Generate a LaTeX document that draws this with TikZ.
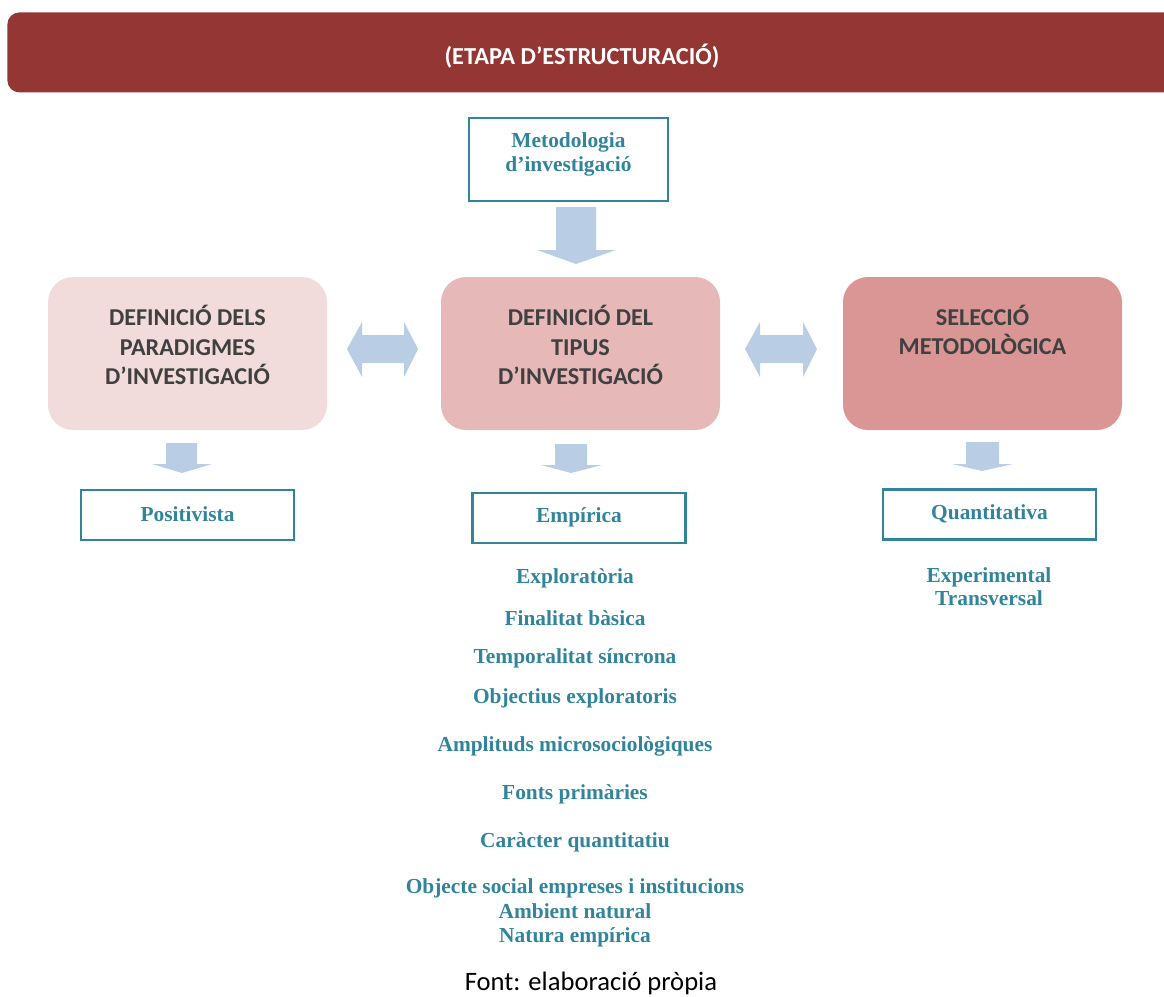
\documentclass[tikz,border=0pt]{standalone}
\usepackage{fontspec}
\setmainfont{Liberation Serif}
\newfontfamily\calibri{Carlito}
\definecolor{bannerred}{HTML}{943634}
\definecolor{paleA}{HTML}{F2DCDB}
\definecolor{paleB}{HTML}{E6B8B7}
\definecolor{paleC}{HTML}{DA9694}
\definecolor{headgray}{HTML}{404040}
\definecolor{tealc}{HTML}{31849B}
\definecolor{arrowblue}{HTML}{B9CDE5}
\begin{document}
\begin{tikzpicture}[x=0.5pt,y=-0.5pt,
  banner/.style={fill=bannerred, rounded corners=6pt, minimum width=590pt, minimum height=40pt, inner sep=0pt},
  bannertxt/.style={font=\calibri\bfseries\fontsize{12.2}{14}\selectfont, text=white},
  stagebox/.style={rounded corners=12.5pt, minimum width=139.5pt, minimum height=76.5pt, inner sep=0pt},
  headtxt/.style={font=\calibri\bfseries\fontsize{12.1}{14.8}\selectfont, text=headgray, align=center},
  outbox/.style={draw=tealc, line width=1.1pt, fill=white, minimum width=106.5pt, minimum height=25pt, inner sep=0pt},
  tealtxt/.style={font=\bfseries\fontsize{10.7}{12}\selectfont, text=tealc, align=center, inner sep=0pt},
  blockarrow/.style={fill=arrowblue, draw=none},
  foot/.style={font=\calibri\fontsize{13.3}{15}\selectfont, text=black, inner sep=0pt}
]
\useasboundingbox (0,0) rectangle (1164,997);

% title band
\node[banner, anchor=north west] (band) at (7,12) {};
\node[bannertxt] (bandtxt) at (582,56) {(ETAPA D’ESTRUCTURACIÓ)};

% methodology box
\node[outbox, minimum width=99.5pt, minimum height=41.5pt] (meto) at (568.5,159.5) {};
\node[tealtxt, text width=99pt, font=\bfseries\fontsize{10.7}{12}\selectfont] (metotxt) at (568.5,154) {Metodologia\\d’investigació};

% three stage boxes
\node[stagebox, fill=paleA] (para) at (187.5,353.5) {};
\node[stagebox, fill=paleB] (tipus) at (580.5,353.5) {};
\node[stagebox, fill=paleC] (selec) at (982.5,353.5) {};
\node[headtxt] (paratxt) at (187.5,345) {DEFINICIÓ DELS\\PARADIGMES\\D’INVESTIGACIÓ};
\node[headtxt] (tipustxt) at (580.5,345) {DEFINICIÓ DEL\\TIPUS\\D’INVESTIGACIÓ};
\node[headtxt] (selectxt) at (982.5,330) {SELECCIÓ\\METODOLÒGICA};

% result boxes
\node[outbox] (posit) at (187.5,515) {};
\node[tealtxt] (posittxt) at (187.5,514) {Positivista};
\node[outbox] (empir) at (579,518) {};
\node[tealtxt] (empirtxt) at (579,517) {Empírica};
\node[outbox] (quant) at (989.5,514.5) {};
\node[tealtxt] (quanttxt) at (989.5,514) {Quantitativa};

% block arrows
\fill[blockarrow] (556,207) -- (596,207) -- (596,250) -- (616,250) -- (576,264)
  -- (537,250) -- (556,250) -- cycle;
\fill[blockarrow] (166,443) -- (197,443) -- (197,464) -- (212,464) -- (182,473)
  -- (152,464) -- (166,464) -- cycle;
\fill[blockarrow] (555,444) -- (587,444) -- (587,465) -- (602,465) -- (571,473)
  -- (541,465) -- (555,465) -- cycle;
\fill[blockarrow] (966,442) -- (999,442) -- (999,464) -- (1013,464) -- (982,471)
  -- (952,464) -- (966,464) -- cycle;
\fill[blockarrow] (347,349) -- (362,322) -- (362,335) -- (404,335) -- (404,322)
  -- (418,349) -- (404,377) -- (404,363) -- (362,363) -- (362,377) -- cycle;
\fill[blockarrow] (745,349) -- (760,322) -- (760,335) -- (803,335) -- (803,322)
  -- (817,349) -- (803,377) -- (803,363) -- (760,363) -- (760,377) -- cycle;

% features of the research type
\node[tealtxt] (f1) at (575,578) {Exploratòria};
\node[tealtxt] (f2) at (575,618) {Finalitat bàsica};
\node[tealtxt] (f3) at (575,658) {Temporalitat síncrona};
\node[tealtxt] (f4) at (575,698) {Objectius exploratoris};
\node[tealtxt] (f5) at (575,746) {Amplituds microsociològiques};
\node[tealtxt] (f6) at (575,794) {Fonts primàries};
\node[tealtxt] (f7) at (575,842) {Caràcter quantitatiu};
\node[tealtxt, font=\bfseries\fontsize{10.7}{12.3}\selectfont] (f8) at (575,913)
  {Objecte social empreses i institucions\\Ambient natural\\Natura empírica};

% methodological selection details
\node[tealtxt, font=\bfseries\fontsize{10.7}{11.6}\selectfont] (design) at (989,586.5)
  {Experimental\\Transversal};

% source line
\node[foot, anchor=base] (source) at (591,990) {Font: elaboració pròpia};
\end{tikzpicture}
\end{document}
